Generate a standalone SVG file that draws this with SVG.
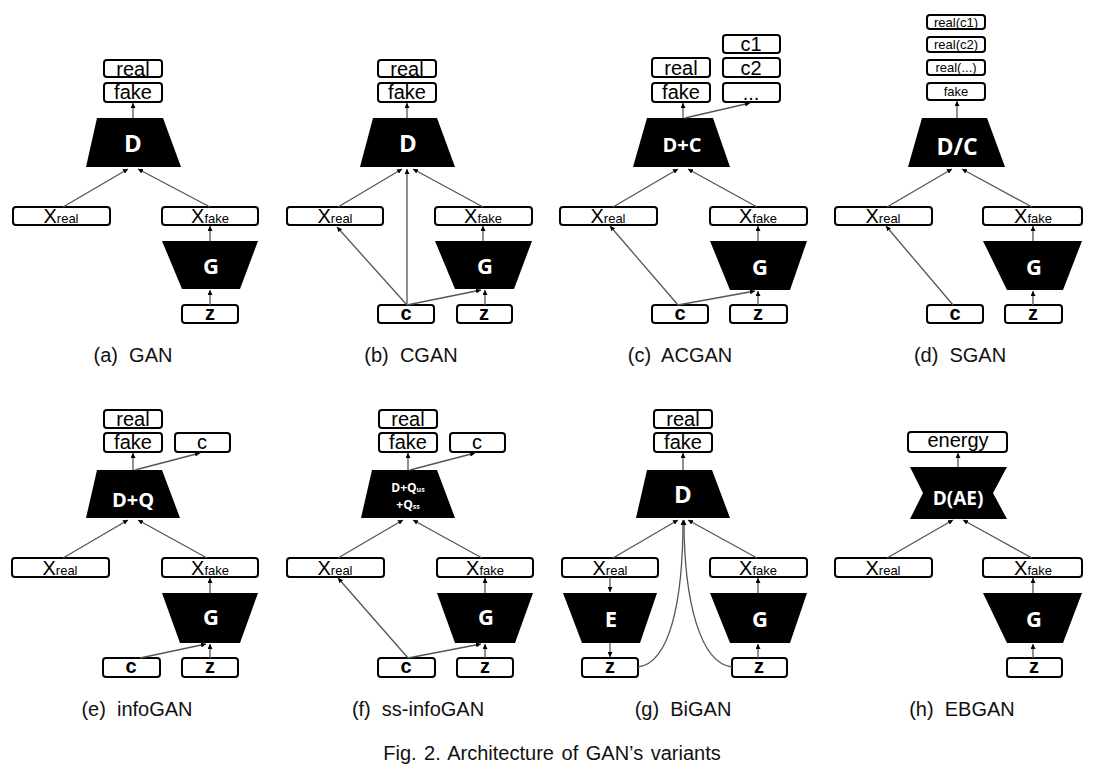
<svg xmlns="http://www.w3.org/2000/svg" width="1103" height="774" viewBox="0 0 1103 774">
<style>
.box{fill:#fff;stroke:#000;stroke-width:2}
.blk{fill:#000}
.lbl{font-family:"Liberation Sans",Arial,sans-serif;font-size:20px;text-anchor:middle;fill:#000}
.sm{font-size:13px}
.bz{font-weight:bold}
.nn{font-family:"Open Sans","DejaVu Sans",sans-serif;font-weight:bold;fill:#fff;text-anchor:middle}
.cap{font-family:"Liberation Sans",Arial,sans-serif;font-size:20px;text-anchor:middle;fill:#111;white-space:pre}
.ln{stroke:#555;stroke-width:1.3;fill:none;marker-end:url(#ah)}
</style>
<defs>
<marker id="ah" viewBox="0 0 10 10" refX="10" refY="5" markerWidth="5" markerHeight="5" markerUnits="userSpaceOnUse" orient="auto"><path d="M0,0 L10,5 L0,10 z" fill="#000"/></marker>
</defs>
<rect width="1103" height="774" fill="#fff"/>

<!-- (a) GAN -->
<g id="panel-a">
<g id="a-real"><rect class="box" x="104" y="60" width="58" height="17" rx="3"/><text class="lbl" x="133" y="76">real</text></g>
<g id="a-fake"><rect class="box" x="104" y="83" width="58" height="19" rx="3"/><text class="lbl" x="133" y="99">fake</text></g>
<g id="a-D"><polygon class="blk" points="97,118 163,118 181,167 86,167"/><text class="nn" x="133" y="152" font-size="24">D</text></g>
<g id="a-xreal"><rect class="box" x="13" y="207" width="97" height="18" rx="3"/><text class="lbl" x="61" y="223">X<tspan class="sm">real</tspan></text></g>
<g id="a-xfake"><rect class="box" x="162" y="207" width="96" height="18" rx="3"/><text class="lbl" x="210" y="223">X<tspan class="sm">fake</tspan></text></g>
<g id="a-G"><polygon class="blk" points="162,241 258,241 240,289 182,289"/><text class="nn" x="211" y="274" font-size="22">G</text></g>
<g id="a-z"><rect class="box" x="182" y="305" width="56" height="18" rx="3"/><text class="lbl bz" x="210" y="320">z</text></g>
</g>

<!-- (b) CGAN -->
<g id="panel-b" transform="translate(275,0)">
<g id="b-real"><rect class="box" x="103" y="60" width="58" height="17" rx="3"/><text class="lbl" x="132" y="76">real</text></g>
<g id="b-fake"><rect class="box" x="103" y="83" width="58" height="19" rx="3"/><text class="lbl" x="132" y="99">fake</text></g>
<g id="b-D"><polygon class="blk" points="98,118 162,118 180,167 85,167"/><text class="nn" x="133" y="152" font-size="24">D</text></g>
<g id="b-xreal"><rect class="box" x="12" y="207" width="96" height="18" rx="3"/><text class="lbl" x="60" y="223">X<tspan class="sm">real</tspan></text></g>
<g id="b-xfake"><rect class="box" x="160" y="207" width="97" height="18" rx="3"/><text class="lbl" x="208" y="223">X<tspan class="sm">fake</tspan></text></g>
<g id="b-G"><polygon class="blk" points="160,241 257,241 239,289 180,289"/><text class="nn" x="210" y="274" font-size="22">G</text></g>
<g id="b-c"><rect class="box" x="103" y="305" width="56" height="18" rx="3"/><text class="lbl bz" x="131" y="320">c</text></g>
<g id="b-z"><rect class="box" x="182" y="305" width="55" height="18" rx="3"/><text class="lbl bz" x="209" y="320">z</text></g>
</g>

<!-- (c) ACGAN -->
<g id="panel-c" transform="translate(550,0)">
<g id="c-c1"><rect class="box" x="173" y="35" width="57" height="18" rx="3"/><text class="lbl" x="201" y="51">c1</text></g>
<g id="c-c2"><rect class="box" x="173" y="58" width="57" height="19" rx="3"/><text class="lbl" x="201" y="75">c2</text></g>
<g id="c-dots"><rect class="box" x="173" y="83" width="57" height="19" rx="3"/><text class="lbl" x="201" y="100">...</text></g>
<g id="c-real"><rect class="box" x="102" y="58" width="58" height="19" rx="3"/><text class="lbl" x="131" y="75">real</text></g>
<g id="c-fake"><rect class="box" x="102" y="83" width="58" height="19" rx="3"/><text class="lbl" x="131" y="99">fake</text></g>
<g id="c-D"><polygon class="blk" points="97,118 163,118 180,167 83,167"/><text class="nn" x="132" y="152" font-size="20">D+C</text></g>
<g id="c-xreal"><rect class="box" x="10" y="207" width="97" height="18" rx="3"/><text class="lbl" x="58" y="223">X<tspan class="sm">real</tspan></text></g>
<g id="c-xfake"><rect class="box" x="160" y="207" width="97" height="18" rx="3"/><text class="lbl" x="208" y="223">X<tspan class="sm">fake</tspan></text></g>
<g id="c-G"><polygon class="blk" points="160,241 257,241 240,290 180,290"/><text class="nn" x="210" y="275" font-size="22">G</text></g>
<g id="c-c"><rect class="box" x="102" y="305" width="56" height="18" rx="3"/><text class="lbl bz" x="130" y="320">c</text></g>
<g id="c-z"><rect class="box" x="180" y="305" width="57" height="18" rx="3"/><text class="lbl bz" x="208" y="320">z</text></g>
</g>

<!-- (d) SGAN -->
<g id="panel-d" transform="translate(825,0)">
<g id="d-rc1"><rect class="box" x="102" y="15" width="58" height="14" rx="3"/><text class="lbl sm" x="131" y="27">real(c1)</text></g>
<g id="d-rc2"><rect class="box" x="102" y="37" width="58" height="15" rx="3"/><text class="lbl sm" x="131" y="49">real(c2)</text></g>
<g id="d-rcd"><rect class="box" x="102" y="60" width="58" height="15" rx="3"/><text class="lbl sm" x="131" y="72">real(...)</text></g>
<g id="d-fake"><rect class="box" x="102" y="83" width="58" height="17" rx="3"/><text class="lbl sm" x="131" y="96">fake</text></g>
<g id="d-D"><polygon class="blk" points="97,118 162,118 180,167 83,167"/><text class="nn" x="132" y="155" font-size="23">D/C</text></g>
<g id="d-xreal"><rect class="box" x="10" y="207" width="97" height="18" rx="3"/><text class="lbl" x="58" y="223">X<tspan class="sm">real</tspan></text></g>
<g id="d-xfake"><rect class="box" x="158" y="207" width="99" height="18" rx="3"/><text class="lbl" x="208" y="223">X<tspan class="sm">fake</tspan></text></g>
<g id="d-G"><polygon class="blk" points="158,241 257,241 238,290 182,290"/><text class="nn" x="209" y="275" font-size="22">G</text></g>
<g id="d-c"><rect class="box" x="102" y="305" width="56" height="18" rx="3"/><text class="lbl bz" x="130" y="320">c</text></g>
<g id="d-z"><rect class="box" x="180" y="305" width="57" height="18" rx="3"/><text class="lbl bz" x="208" y="320">z</text></g>
</g>

<!-- (e) infoGAN -->
<g id="panel-e" transform="translate(0,351)">
<g id="e-real"><rect class="box" x="104" y="59" width="58" height="18" rx="3"/><text class="lbl" x="133" y="75">real</text></g>
<g id="e-fake"><rect class="box" x="104" y="82" width="58" height="19" rx="3"/><text class="lbl" x="133" y="98">fake</text></g>
<g id="e-cout"><rect class="box" x="175" y="82" width="55" height="19" rx="3"/><text class="lbl" x="202" y="98">c</text></g>
<g id="e-D"><polygon class="blk" points="97,119 162,119 180,167 86,167"/><text class="nn" x="133" y="156" font-size="20">D+Q</text></g>
<g id="e-xreal"><rect class="box" x="12" y="207" width="97" height="19" rx="3"/><text class="lbl" x="60" y="224">X<tspan class="sm">real</tspan></text></g>
<g id="e-xfake"><rect class="box" x="162" y="207" width="96" height="19" rx="3"/><text class="lbl" x="210" y="224">X<tspan class="sm">fake</tspan></text></g>
<g id="e-G"><polygon class="blk" points="162,242 258,242 240,292 180,292"/><text class="nn" x="211" y="274" font-size="22">G</text></g>
<g id="e-c"><rect class="box" x="103" y="307" width="57" height="19" rx="3"/><text class="lbl bz" x="131" y="322">c</text></g>
<g id="e-z"><rect class="box" x="182" y="307" width="56" height="19" rx="3"/><text class="lbl bz" x="210" y="322">z</text></g>
</g>

<!-- (f) ss-infoGAN -->
<g id="panel-f" transform="translate(275,351)">
<g id="f-real"><rect class="box" x="104" y="59" width="58" height="18" rx="3"/><text class="lbl" x="133" y="75">real</text></g>
<g id="f-fake"><rect class="box" x="104" y="82" width="58" height="19" rx="3"/><text class="lbl" x="133" y="98">fake</text></g>
<g id="f-cout"><rect class="box" x="175" y="82" width="55" height="19" rx="3"/><text class="lbl" x="202" y="98">c</text></g>
<g id="f-D"><polygon class="blk" points="97,119 162,119 180,167 86,167"/>
<text class="nn" x="133" y="141" font-size="12">D+Q<tspan font-size="7">us</tspan></text>
<text class="nn" x="133" y="158" font-size="12">+Q<tspan font-size="7">ss</tspan></text></g>
<g id="f-xreal"><rect class="box" x="12" y="207" width="97" height="19" rx="3"/><text class="lbl" x="60" y="224">X<tspan class="sm">real</tspan></text></g>
<g id="f-xfake"><rect class="box" x="162" y="207" width="96" height="19" rx="3"/><text class="lbl" x="210" y="224">X<tspan class="sm">fake</tspan></text></g>
<g id="f-G"><polygon class="blk" points="162,242 258,242 240,292 180,292"/><text class="nn" x="211" y="274" font-size="22">G</text></g>
<g id="f-c"><rect class="box" x="103" y="307" width="57" height="19" rx="3"/><text class="lbl bz" x="131" y="322">c</text></g>
<g id="f-z"><rect class="box" x="182" y="307" width="56" height="19" rx="3"/><text class="lbl bz" x="210" y="322">z</text></g>
</g>

<!-- (g) BiGAN -->
<g id="panel-g" transform="translate(550,351)">
<g id="g-real"><rect class="box" x="104" y="59" width="58" height="18" rx="3"/><text class="lbl" x="133" y="75">real</text></g>
<g id="g-fake"><rect class="box" x="104" y="82" width="58" height="19" rx="3"/><text class="lbl" x="133" y="98">fake</text></g>
<g id="g-D"><polygon class="blk" points="97,119 162,119 180,167 86,167"/><text class="nn" x="133" y="152" font-size="24">D</text></g>
<g id="g-xreal"><rect class="box" x="12" y="207" width="96" height="19" rx="3"/><text class="lbl" x="60" y="224">X<tspan class="sm">real</tspan></text></g>
<g id="g-E"><polygon class="blk" points="13,242 107,242 90,292 32,292"/><text class="nn" x="61" y="276" font-size="22">E</text></g>
<g id="g-zl"><rect class="box" x="32" y="307" width="56" height="19" rx="3"/><text class="lbl bz" x="60" y="322">z</text></g>
<g id="g-xfake"><rect class="box" x="160" y="207" width="97" height="19" rx="3"/><text class="lbl" x="208" y="224">X<tspan class="sm">fake</tspan></text></g>
<g id="g-G"><polygon class="blk" points="160,242 257,242 240,292 180,292"/><text class="nn" x="210" y="276" font-size="22">G</text></g>
<g id="g-zr"><rect class="box" x="182" y="307" width="55" height="19" rx="3"/><text class="lbl bz" x="209" y="322">z</text></g>
</g>

<!-- (h) EBGAN -->
<g id="panel-h" transform="translate(825,351)">
<g id="h-energy"><rect class="box" x="83" y="81" width="99" height="20" rx="3"/><text class="lbl" x="133" y="96" font-size="13">energy</text></g>
<g id="h-D"><polygon class="blk" points="85,116 182,116 168,142 182,168 85,168 98,142"/><text class="nn" x="133" y="154" font-size="19">D(AE)</text></g>
<g id="h-xreal"><rect class="box" x="10" y="207" width="97" height="19" rx="3"/><text class="lbl" x="58" y="224">X<tspan class="sm">real</tspan></text></g>
<g id="h-xfake"><rect class="box" x="158" y="207" width="99" height="19" rx="3"/><text class="lbl" x="208" y="224">X<tspan class="sm">fake</tspan></text></g>
<g id="h-G"><polygon class="blk" points="158,242 257,242 238,292 182,292"/><text class="nn" x="209" y="276" font-size="22">G</text></g>
<g id="h-z"><rect class="box" x="182" y="307" width="55" height="19" rx="3"/><text class="lbl bz" x="209" y="322">z</text></g>
</g>

<g id="connectors">
<g transform="translate(0,0)">
<path class="ln" d="M133,118 L133,103"/>
<path class="ln" d="M63,207 L128,169"/>
<path class="ln" d="M210,207 L138,169"/>
<path class="ln" d="M210,241 L210,226"/>
<path class="ln" d="M210,305 L210,290"/>
</g>
<g transform="translate(275,0)">
<path class="ln" d="M132,118 L132,103"/>
<path class="ln" d="M63,207 L127,169"/>
<path class="ln" d="M208,207 L138,169"/>
<path class="ln" d="M208,241 L208,226"/>
<path class="ln" d="M210,305 L210,290"/>
<path class="ln" d="M132,305 L62,227"/>
<path class="ln" d="M132,305 L132,169"/>
<path class="ln" d="M132,305 L206,290"/>
</g>
<g transform="translate(550,0)">
<path class="ln" d="M133,118 L133,103"/>
<path class="ln" d="M135,118 L200,103"/>
<path class="ln" d="M63,207 L128,169"/>
<path class="ln" d="M207,207 L138,169"/>
<path class="ln" d="M208,241 L208,226"/>
<path class="ln" d="M208,305 L208,291"/>
<path class="ln" d="M128,305 L60,226"/>
<path class="ln" d="M128,305 L205,291"/>
</g>
<g transform="translate(825,0)">
<path class="ln" d="M132,118 L132,101"/>
<path class="ln" d="M62,207 L127,169"/>
<path class="ln" d="M207,207 L137,169"/>
<path class="ln" d="M208,241 L208,226"/>
<path class="ln" d="M208,305 L208,291"/>
<path class="ln" d="M128,305 L61,226"/>
</g>
<g transform="translate(0,351)">
<path class="ln" d="M133,119 L133,102"/>
<path class="ln" d="M135,119 L200,102"/>
<path class="ln" d="M63,207 L128,169"/>
<path class="ln" d="M207,207 L138,169"/>
<path class="ln" d="M210,242 L210,227"/>
<path class="ln" d="M210,307 L210,293"/>
<path class="ln" d="M140,307 L206,293"/>
</g>
<g transform="translate(275,351)">
<path class="ln" d="M133,119 L133,102"/>
<path class="ln" d="M135,119 L200,102"/>
<path class="ln" d="M63,207 L128,169"/>
<path class="ln" d="M207,207 L138,169"/>
<path class="ln" d="M210,242 L210,227"/>
<path class="ln" d="M210,307 L210,293"/>
<path class="ln" d="M133,307 L206,293"/>
<path class="ln" d="M133,307 L63,227"/>
</g>
<g transform="translate(550,351)">
<path class="ln" d="M133,119 L133,102"/>
<path class="ln" d="M63,207 L128,169"/>
<path class="ln" d="M207,207 L138,169"/>
<path class="ln" d="M208,242 L208,227"/>
<path class="ln" d="M208,307 L208,293"/>
<path class="ln" d="M60,226 L60,241"/>
<path class="ln" d="M60,292 L60,306"/>
<path class="ln" d="M88,316 C120,312 133,250 133,169"/>
<path class="ln" d="M182,316 C150,312 134,250 134,169"/>
</g>
<g transform="translate(825,351)">
<path class="ln" d="M133,116 L133,102"/>
<path class="ln" d="M62,207 L128,169"/>
<path class="ln" d="M207,207 L138,169"/>
<path class="ln" d="M208,242 L208,227"/>
<path class="ln" d="M208,307 L208,293"/>
</g>
</g>

<g id="captions">
<text class="cap" x="133" y="362">(a)  GAN</text>
<text class="cap" x="411" y="362">(b)  CGAN</text>
<text class="cap" x="680" y="362">(c)  ACGAN</text>
<text class="cap" x="960" y="362">(d)  SGAN</text>
<text class="cap" x="137" y="716">(e)  infoGAN</text>
<text class="cap" x="418" y="716">(f)  ss-infoGAN</text>
<text class="cap" x="683" y="716">(g)  BiGAN</text>
<text class="cap" x="962" y="716">(h)  EBGAN</text>
<text class="cap" x="552" y="760" word-spacing="2">Fig. 2. Architecture of GAN’s variants</text>
</g>
</svg>
